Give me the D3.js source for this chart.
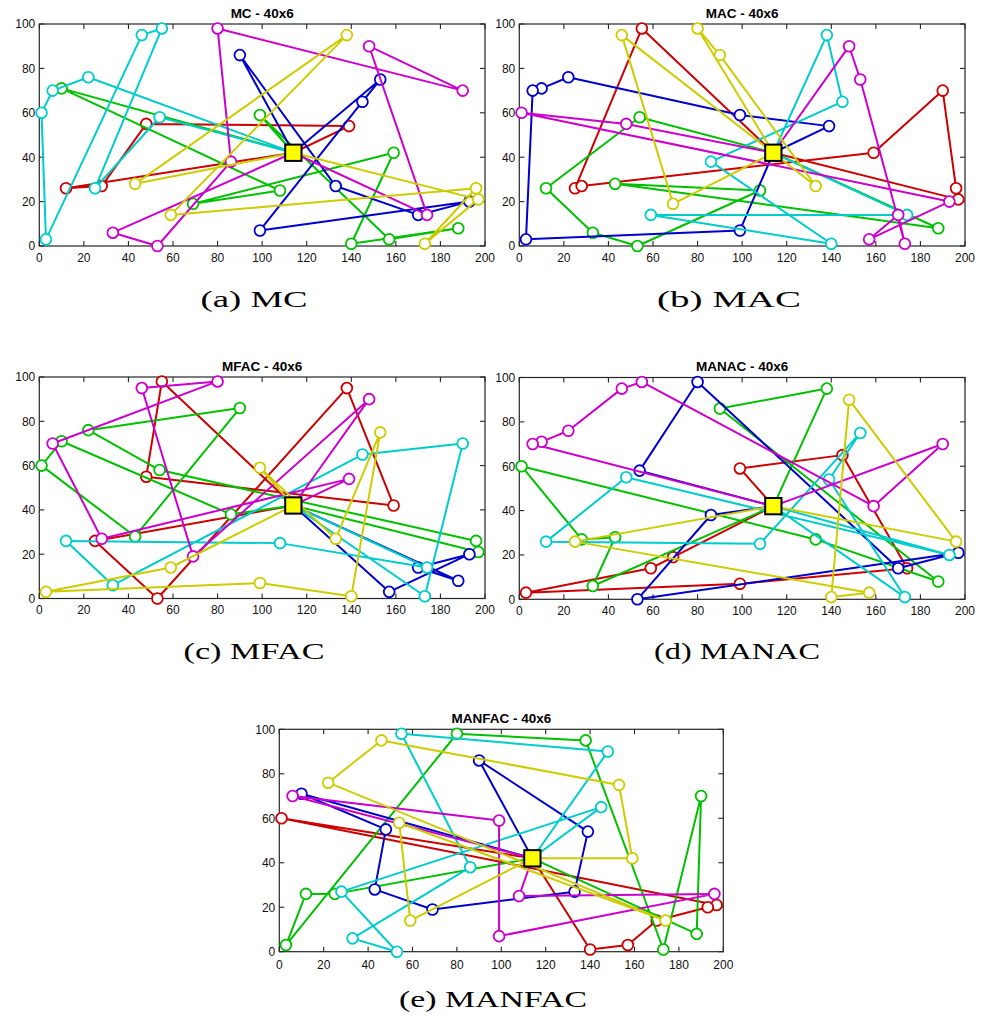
<!DOCTYPE html>
<html>
<head>
<meta charset="utf-8">
<script src="https://cdn.jsdelivr.net/npm/d3@7"></script>
<style>
  body { margin: 0; background: #fff; }
  svg { display: block; }
</style>
</head>
<body>
<svg id="fig" width="985" height="1019"></svg>
<script>
// Depot location shared by every instance
const depot = [114, 42];

// Vehicle colours, in the order routes are listed below
const routeColors = ["#cc0000", "#00c000", "#0000cc", "#00cccc", "#cc00cc", "#cccc00"];

// Tick values
const xTicks = [0, 20, 40, 60, 80, 100, 120, 140, 160, 180, 200];
const yTicks = [0, 20, 40, 60, 80, 100];

// Routes (customers visited in order, depot implied at both ends)
// order: red, green, blue, cyan, magenta, yellow
const routesMC = [
  [[139,54],[48,55],[28,27],[12,26]],
  [[10,71],[108,25],[69,19],[159,42],[140,1],[188,8],[157,3],[99,59]],
  [[90,86],[133,27],[170,14],[193,20],[99,7],[145,65],[153,75]],
  [[22,76],[6,70],[1,60],[3,3],[46,95],[55,98],[25,26],[54,58]],
  [[174,14],[148,90],[190,70],[80,98],[86,38],[53,0],[33,6]],
  [[43,28],[138,95],[59,14],[196,26],[173,1],[197,21]]
];
const routesMAC = [
  [[55,98],[25,26],[28,27],[159,42],[190,70],[196,26],[197,21]],
  [[54,58],[12,26],[33,6],[53,0],[108,25],[43,28],[188,8]],
  [[139,54],[99,59],[22,76],[10,71],[6,70],[3,3],[99,7]],
  [[138,95],[145,65],[86,38],[140,1],[59,14],[174,14]],
  [[148,90],[153,75],[173,1],[170,14],[157,3],[193,20],[1,60],[48,55]],
  [[80,98],[90,86],[133,27],[46,95],[69,19]]
];
const routesMFAC = [
  [[55,98],[48,55],[159,42],[138,95],[53,0],[25,26]],
  [[86,38],[10,71],[1,60],[43,28],[90,86],[22,76],[54,58],[196,26],[197,21]],
  [[157,3],[193,20],[170,14],[188,8]],
  [[174,14],[108,25],[12,26],[33,6],[145,65],[190,70],[173,1]],
  [[139,54],[28,27],[6,70],[80,98],[46,95],[69,19],[148,90]],
  [[59,14],[3,3],[99,7],[140,1],[153,75],[133,27],[99,59]]
];
const routesMANAC = [
  [[99,59],[145,65],[174,14],[99,7],[3,3],[59,14],[69,19]],
  [[138,95],[90,86],[188,8],[133,27],[1,60],[28,27],[43,28],[33,6]],
  [[54,58],[80,98],[170,14],[197,21],[53,0],[86,38]],
  [[193,20],[48,55],[12,26],[108,25],[153,75],[139,54],[173,1]],
  [[190,70],[159,42],[55,98],[46,95],[22,76],[10,71],[6,70]],
  [[25,26],[157,3],[140,1],[148,90],[196,26]]
];
const routesMANFAC = [
  [[1,60],[197,21],[193,20],[170,14],[157,3],[140,1]],
  [[25,26],[12,26],[3,3],[80,98],[138,95],[173,1],[190,70],[188,8]],
  [[10,71],[48,55],[43,28],[69,19],[133,27],[139,54],[90,86]],
  [[148,90],[55,98],[86,38],[33,6],[53,0],[28,27],[145,65]],
  [[6,70],[99,59],[99,7],[196,26],[108,25]],
  [[159,42],[153,75],[46,95],[22,76],[174,14],[54,58],[59,14]]
];

const titles = ["MC - 40x6", "MAC - 40x6", "MFAC - 40x6", "MANAC - 40x6", "MANFAC - 40x6"];
const captions = ["(a) MC", "(b) MAC", "(c) MFAC", "(d) MANAC", "(e) MANFAC"];
const allRoutes = [routesMC, routesMAC, routesMFAC, routesMANAC, routesMANFAC];

// Panel frames in page pixels
const frames = [
  { x0: 39.3,  x1: 485,   y0: 24,    y1: 246,   capX: 254, capY: 306.5, capW: 107 },
  { x0: 519.3, x1: 965,   y0: 24,    y1: 246,   capX: 729, capY: 306.5, capW: 144 },
  { x0: 39.3,  x1: 485,   y0: 377,   y1: 598.5, capX: 254, capY: 658.5, capW: 141 },
  { x0: 519.3, x1: 965,   y0: 377.5, y1: 599.3, capX: 737, capY: 658.5, capW: 166 },
  { x0: 279.3, x1: 723.3, y0: 729.3, y1: 951.7, capX: 493, capY: 1006.5, capW: 188 }
];

const svg = d3.select("#fig");
const axisColor = "#262626";
const tickLen = 5;

frames.forEach((f, i) => {
  const g = svg.append("g");
  const x = d3.scaleLinear().domain([0, 200]).range([f.x0, f.x1]);
  const y = d3.scaleLinear().domain([0, 100]).range([f.y1, f.y0]);

  // axes box
  g.append("rect")
    .attr("x", f.x0).attr("y", f.y0)
    .attr("width", f.x1 - f.x0).attr("height", f.y1 - f.y0)
    .attr("fill", "#fff").attr("stroke", axisColor).attr("stroke-width", 1.2);

  // inward ticks on all four sides
  xTicks.forEach(t => {
    g.append("line").attr("x1", x(t)).attr("x2", x(t)).attr("y1", f.y1).attr("y2", f.y1 - tickLen)
      .attr("stroke", axisColor).attr("stroke-width", 1.1);
    g.append("line").attr("x1", x(t)).attr("x2", x(t)).attr("y1", f.y0).attr("y2", f.y0 + tickLen)
      .attr("stroke", axisColor).attr("stroke-width", 1.1);
    g.append("text").attr("x", x(t)).attr("y", f.y1 + (i === 4 ? 17.5 : 15.5))
      .attr("text-anchor", "middle")
      .attr("font-family", "Liberation Sans, Arial, sans-serif").attr("font-size", 12)
      .attr("fill", "#111").text(t);
  });
  yTicks.forEach(t => {
    g.append("line").attr("x1", f.x0).attr("x2", f.x0 + tickLen).attr("y1", y(t)).attr("y2", y(t))
      .attr("stroke", axisColor).attr("stroke-width", 1.1);
    g.append("line").attr("x1", f.x1).attr("x2", f.x1 - tickLen).attr("y1", y(t)).attr("y2", y(t))
      .attr("stroke", axisColor).attr("stroke-width", 1.1);
    g.append("text").attr("x", f.x0 - 4).attr("y", y(t) + 4.3)
      .attr("text-anchor", "end")
      .attr("font-family", "Liberation Sans, Arial, sans-serif").attr("font-size", 12)
      .attr("fill", "#111").text(t);
  });

  // title
  g.append("text").attr("x", (f.x0 + f.x1) / 2).attr("y", f.y0 - 6.5)
    .attr("text-anchor", "middle")
    .attr("font-family", "Liberation Sans, Arial, sans-serif").attr("font-size", 13.5)
    .attr("font-weight", "bold").attr("fill", "#000").text(titles[i]);

  // caption under the panel
  g.append("text").attr("x", f.capX - f.capW / 2).attr("y", f.capY)
    .attr("font-family", "Liberation Serif, Times New Roman, serif").attr("font-size", 22.5)
    .attr("textLength", f.capW).attr("lengthAdjust", "spacingAndGlyphs")
    .attr("fill", "#000").text(captions[i]);

  // routes
  const line = d3.line().x(d => x(d[0])).y(d => y(d[1]));
  allRoutes[i].forEach((route, k) => {
    const color = routeColors[k];
    const path = [depot, ...route, depot];
    g.append("path").attr("d", line(path))
      .attr("fill", "none").attr("stroke", color).attr("stroke-width", 2)
      .attr("stroke-linejoin", "round");
    g.selectAll(null).data(route).enter().append("circle")
      .attr("cx", d => x(d[0])).attr("cy", d => y(d[1])).attr("r", 5.4)
      .attr("fill", "#fff").attr("stroke", color).attr("stroke-width", 1.8);
  });

  // depot marker
  const s = 16.3;
  g.append("rect")
    .attr("x", x(depot[0]) - s / 2).attr("y", y(depot[1]) - s / 2)
    .attr("width", s).attr("height", s)
    .attr("fill", "#ffff00").attr("stroke", "#000").attr("stroke-width", 2);
});
</script>
</body>
</html>
